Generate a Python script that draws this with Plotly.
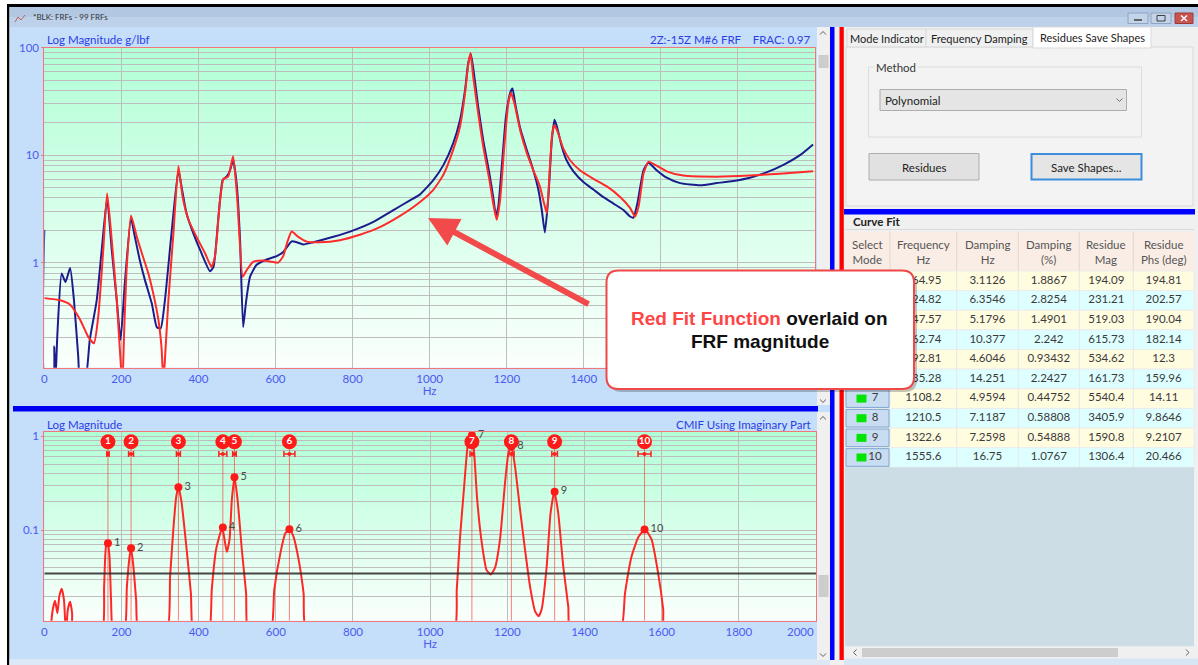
import plotly.graph_objects as go

W, H = 1198, 665
UI = "Lato, 'Noto Sans', sans-serif"

# ---------------- FRF magnitude (g/lbf) : measured ----------------
frf_hz = [0, 2.6, 23, 26, 29, 34, 45, 55, 67, 77, 88, 93, 106, 118, 136, 149, 163, 175, 188, 198,
          209, 225, 235, 248, 261, 279, 292, 302, 313, 330, 348, 356, 369, 387, 404, 430, 439, 452,
          463, 473, 482, 490, 499, 508, 516, 523, 534, 551, 577, 603, 620, 642, 655, 672, 698, 750,
          802, 854, 906, 949, 975, 1010, 1036, 1061, 1079, 1092, 1100, 1107, 1115, 1126, 1139, 1155,
          1165, 1172, 1178, 1187, 1198, 1209, 1215, 1222, 1235, 1252, 1269, 1282, 1291, 1299, 1308,
          1317, 1324, 1330, 1343, 1355, 1373, 1399, 1425, 1451, 1477, 1503, 1520, 1529, 1539, 1555,
          1568, 1589, 1615, 1650, 1702, 1745, 1788, 1831, 1874, 1918, 1961, 1995]
frf_mag = [2.01, 0.08, 0.08, 0.166, 0.08, 0.219, 0.794, 0.661, 0.891, 0.447, 0.135, 0.08, 0.08, 0.191,
           0.447, 1.318, 3.98, 1.318, 0.447, 0.191, 0.646, 2.57, 1.74, 1.05, 0.692, 0.417, 0.251,
           0.245, 0.447, 1.86, 7.24, 5.13, 2.88, 1.86, 1.32, 0.832, 0.912, 2.69, 5.89, 6.31, 7.24,
           9.02, 5.50, 1.62, 0.251, 0.417, 0.741, 0.955, 1.07, 1.15, 1.26, 1.58, 1.55, 1.48, 1.55,
           1.74, 2.00, 2.40, 3.09, 3.80, 4.32, 5.89, 8.13, 12.9, 21.4, 40.7, 71.6, 87.1, 57.5, 28.2,
           13.8, 6.76, 4.07, 2.75, 3.31, 7.76, 22.9, 38.0, 41.7, 30.2, 17.8, 11.2, 7.24, 4.79, 3.09,
           1.91, 4.07, 13.8, 21.4, 18.6, 12.0, 9.02, 7.08, 5.62, 4.79, 4.07, 3.55, 3.09, 2.69, 2.63,
           3.55, 7.24, 8.51, 7.24, 6.17, 5.50, 5.25, 5.50, 5.75, 6.17, 6.92, 8.13, 10.0, 12.6]

# ---------------- FRF magnitude (g/lbf) : curve fit ----------------
fit_hz = [0, 41, 67, 93, 114, 129, 140, 153, 163, 175, 188, 199, 203, 207, 214, 225, 240, 253, 270,
          283, 296, 304, 309, 313, 322, 335, 348, 359, 374, 395, 417, 434, 443, 456, 465, 477, 490,
          501, 515, 525, 542, 568, 590, 607, 620, 631, 642, 659, 681, 715, 767, 819, 871, 923, 975,
          1010, 1036, 1061, 1079, 1092, 1100, 1106, 1113, 1126, 1139, 1155, 1165, 1174, 1183, 1193,
          1204, 1211, 1220, 1235, 1252, 1269, 1286, 1297, 1304, 1312, 1318, 1324, 1332, 1347, 1364,
          1390, 1425, 1460, 1495, 1520, 1533, 1542, 1555, 1568, 1585, 1615, 1658, 1745, 1831, 1918,
          1995]
fit_mag = [0.468, 0.447, 0.407, 0.295, 0.204, 0.178, 0.316, 1.32, 4.42, 1.62, 0.447, 0.107, 0.08,
           0.219, 0.912, 2.75, 1.74, 1.23, 0.794, 0.513, 0.295, 0.166, 0.08, 0.124, 0.447, 1.86, 7.94,
           4.07, 2.51, 1.74, 1.23, 0.912, 1.15, 3.80, 6.03, 6.31, 9.77, 3.80, 0.741, 0.851, 1.02,
           1.05, 1.02, 1.00, 1.15, 1.57, 1.95, 1.74, 1.57, 1.55, 1.62, 1.82, 2.14, 2.72, 3.67, 4.79,
           6.61, 11.2, 18.6, 38.0, 69.2, 89.1, 53.7, 24.5, 12.0, 5.89, 3.55, 2.51, 3.89, 11.2, 30.2,
           38.0, 30.2, 17.0, 10.5, 7.24, 5.13, 3.55, 2.88, 7.76, 15.8, 19.1, 16.6, 11.5, 9.02, 7.24,
           6.03, 5.13, 4.07, 3.24, 2.69, 3.31, 6.76, 8.71, 8.13, 7.08, 6.46, 6.31, 6.46, 6.76, 7.08]

# ---------------- CMIF using imaginary part ----------------
cmif_hz = [15, 22, 28, 34, 39, 45, 51, 56, 61, 67, 72, 75, 149, 155, 160, 165, 169, 173, 179, 207,
           214, 221, 225, 231, 238, 245, 317, 326, 335, 342, 348, 356, 369, 380, 387, 426, 434, 445,
           461, 466, 473, 480, 486, 493, 501, 512, 523, 529, 586, 596, 612, 625, 636, 646, 659, 672,
           681, 1060, 1069, 1077, 1088, 1097, 1103, 1108, 1114, 1122, 1134, 1146, 1157, 1168, 1181,
           1194, 1203, 1211, 1220, 1233, 1246, 1259, 1272, 1281, 1289, 1302, 1312, 1322, 1332, 1345,
           1358, 1364, 1492, 1505, 1522, 1540, 1557, 1574, 1591, 1604, 1609, 2000]
cmif_mag = [0.008, 0.0145, 0.0178, 0.0132, 0.020, 0.024, 0.0182, 0.008, 0.0145, 0.0174, 0.0132,
            0.008, 0.008, 0.0251, 0.0676, 0.0728, 0.0525, 0.0182, 0.008, 0.008, 0.0251, 0.0525,
            0.0646, 0.0412, 0.0182, 0.008, 0.008, 0.0324, 0.110, 0.229, 0.286, 0.195, 0.0617,
            0.0214, 0.008, 0.008, 0.0234, 0.0617, 0.107, 0.0851, 0.0589, 0.0794, 0.209, 0.365,
            0.209, 0.0617, 0.0214, 0.008, 0.008, 0.0234, 0.0575, 0.0933, 0.1026, 0.0851, 0.049,
            0.0214, 0.008, 0.008, 0.0234, 0.0794, 0.288, 0.776, 0.977, 1.02, 0.661, 0.209, 0.0724,
            0.038, 0.0339, 0.0398, 0.0794, 0.316, 0.661, 0.771, 0.473, 0.166, 0.0617, 0.0251,
            0.0138, 0.0122, 0.0145, 0.0412, 0.151, 0.257, 0.151, 0.0412, 0.0155, 0.008, 0.008,
            0.0214, 0.0525, 0.0851, 0.102, 0.0794, 0.0347, 0.0145, 0.008, 0.008]
cmif_threshold = 0.0347

# ---------------- curve-fit results ----------------
mode_no = [1, 2, 3, 4, 5, 6, 7, 8, 9, 10]
mode_freq = [164.95, 224.82, 347.57, 462.74, 492.81, 635.28, 1108.2, 1210.5, 1322.6, 1555.6]
mode_damp_hz = [3.1126, 6.3546, 5.1796, 10.377, 4.6046, 14.251, 4.9594, 7.1187, 7.2598, 16.75]
mode_damp_pct = [1.8867, 2.8254, 1.4901, 2.242, 0.93432, 2.2427, 0.44752, 0.58808, 0.54888, 1.0767]
mode_res_mag = [194.09, 231.21, 519.03, 615.73, 534.62, 161.73, 5540.4, 3405.9, 1590.8, 1306.4]
mode_res_phs = [194.81, 202.57, 190.04, 182.14, 12.3, 159.96, 14.11, 9.8646, 9.2107, 20.466]
mode_peak = [0.0728, 0.0646, 0.286, 0.107, 0.365, 0.1026, 1.02, 0.771, 0.257, 0.102]

table_headers = ["Select<br>Mode", "Frequency<br>Hz", "Damping<br>Hz", "Damping<br>(%)",
                 "Residue<br>Mag", "Residue<br>Phs (deg)"]
x_ticks = list(range(0, 2001, 200))


# ---------------- pixel helpers (figure is laid out in screen pixels) ----------------
def X(p):
    return p / W


def Y(p):
    return 1 - p / H


shapes = []
annotations = []


def rect(x0, y0, x1, y1, fill, line=None, lw=1, layer="below"):
    shapes.append(dict(type="rect", xref="paper", yref="paper",
                       x0=X(x0), x1=X(x1), y0=Y(y1), y1=Y(y0), fillcolor=fill, layer=layer,
                       line=dict(color=line if line else "rgba(0,0,0,0)", width=lw if line else 0)))


def pt(x, y):
    return f"{X(x):.6f},{Y(y):.6f}"


def polyline(points, color, lw=1, layer="below"):
    d = "M " + " L ".join(pt(x, y) for x, y in points)
    shapes.append(dict(type="path", xref="paper", yref="paper", path=d, layer=layer,
                       line=dict(color=color, width=lw)))


def rounded(x0, y0, x1, y1, r):
    return ("M " + pt(x0 + r, y0) + " L " + pt(x1 - r, y0) + " Q " + pt(x1, y0) + " " + pt(x1, y0 + r) +
            " L " + pt(x1, y1 - r) + " Q " + pt(x1, y1) + " " + pt(x1 - r, y1) +
            " L " + pt(x0 + r, y1) + " Q " + pt(x0, y1) + " " + pt(x0, y1 - r) +
            " L " + pt(x0, y0 + r) + " Q " + pt(x0, y0) + " " + pt(x0 + r, y0) + " Z")


def label(x, y, s, size=11.5, color="#333333", xanchor="left", family=UI, bg=None):
    a = dict(xref="paper", yref="paper", x=X(x), y=Y(y), text=s, showarrow=False,
             xanchor=xanchor, yanchor="middle", font=dict(size=size, color=color, family=family))
    if bg:
        a["bgcolor"] = bg
    annotations.append(a)


def gradient(x0, y0, x1, y1, top, bottom, n=60):
    h = (y1 - y0) / n
    for i in range(n):
        t = i / (n - 1)
        c = tuple(round(top[k] + (bottom[k] - top[k]) * t) for k in range(3))
        rect(x0, y0 + i * h, x1, min(y1, y0 + (i + 1) * h + 0.7), "rgb(%d,%d,%d)" % c)


def chevron(x, y, direction, s=3, color="#606060"):
    if direction == "up":
        polyline([(x - s, y + s / 2), (x, y - s / 2), (x + s, y + s / 2)], color)
    elif direction == "down":
        polyline([(x - s, y - s / 2), (x, y + s / 2), (x + s, y - s / 2)], color)
    elif direction == "left":
        polyline([(x + s / 2, y - s), (x - s / 2, y), (x + s / 2, y + s)], color)
    else:
        polyline([(x - s / 2, y - s), (x + s / 2, y), (x - s / 2, y + s)], color)


# ---------------- window chrome ----------------
rect(7, 4, W, 7, "#000000")
rect(7, 4, 9.5, H, "#000000")
rect(9.5, 7, W, 17, "#B2C7E1")
rect(9.5, 17, W, 27, "#BDD1EA")
label(31, 17.5, "*BLK: FRFs - 99 FRFs", size=8, color="#333333")
polyline([(15, 22), (18, 17), (21, 20), (25, 15)], "#C06060", 1)
rect(1128, 13, 1148, 23.5, "#C3D3E8", "#8EA4C2")
rect(1151, 13, 1171, 23.5, "#C3D3E8", "#8EA4C2")
rect(1175, 13, 1193, 23.5, "#C9544F", "#9C3A36")
polyline([(1134, 20), (1142, 20)], "#404040", 1.5)
rect(1157, 15.5, 1165, 21, "rgba(0,0,0,0)", "#404040", 1)
polyline([(1181, 15.5), (1187, 21)], "#FFFFFF", 1.5)
polyline([(1187, 15.5), (1181, 21)], "#FFFFFF", 1.5)

# left panel
rect(9.5, 27, 830, H, "#C5DEF9")
rect(9.5, 659, 830, H, "#DCE8F6")
# scrollbars beside the charts
rect(817, 27, 830, 405, "#F0F0F0")
rect(818.5, 55, 828.5, 68, "#CDCDCD")
chevron(823, 33, "up")
chevron(823, 401, "down")
rect(817, 412, 830, 660, "#F0F0F0")
rect(818.5, 575, 828.5, 597, "#CDCDCD")
chevron(823, 418, "up")
chevron(823, 655, "down")
# separator bars
rect(13, 406, 818, 411.5, "#0000F0")
rect(830, 27, W, H, "#F0F0F0")
rect(830, 27, 834.5, 660, "#0000FF")
rect(839.5, 27, 843.8, 660, "#FF0000")

# chart backgrounds
gradient(44.3, 47.7, 815, 367.7, (178, 255, 214), (250, 255, 252))
gradient(44.3, 431.7, 816, 620.7, (178, 255, 214), (250, 255, 252))

# ---------------- right panel ----------------
rect(846, 47, 1193, 206, "#F3F3F3", "#D9D9D9")
rect(847, 29, 926, 47, "#F0F0F0", "#D9D9D9")
rect(926, 29, 1033, 47, "#F0F0F0", "#D9D9D9")
rect(1033, 27, 1151, 48, "#FFFFFF", "#D9D9D9")
label(886.5, 38.5, "Mode Indicator", size=11, color="#222222", xanchor="center")
label(979.5, 38.5, "Frequency Damping", size=11, color="#222222", xanchor="center")
label(1092, 37.5, "Residues Save Shapes", size=11, color="#222222", xanchor="center")
rect(868.5, 67, 1141.5, 137, "rgba(0,0,0,0)", "#DCDCDC")
label(874, 67, "Method", color="#333333", bg="#F3F3F3")
rect(880, 89.5, 1126.5, 110.5, "#E5E5E5", "#ADADAD")
label(883, 100, "Polynomial", color="#222222")
chevron(1119.5, 100, "down", s=3, color="#707070")
rect(869, 153.5, 979, 180, "#E1E1E1", "#ADADAD")
label(924, 167, "Residues", color="#222222", xanchor="center")
rect(1031.5, 154, 1141.5, 179.5, "#E5E5E5", "#3C8EDB", 2)
label(1086.5, 167, "Save Shapes...", color="#222222", xanchor="center")
rect(844, 209, 1195, 214.5, "#0000FF")
label(850.5, 222, "<b>Curve Fit</b>", color="#222222")
rect(845, 229, 1194, 230, "#DADADA")

# curve-fit table
col_edges = [845, 890, 956.7, 1018.3, 1079.3, 1133.3, 1194]
col_mid = [(col_edges[i] + col_edges[i + 1]) / 2 for i in range(6)]
row_top, row_h = 271, 19.63
rect(845, 231.5, 1194, row_top, "#FAEDE5")
for i in range(1, 6):
    rect(col_edges[i] - 0.5, 231.5, col_edges[i] + 0.5, row_top, "#E2D7D0")
for j, hdr in enumerate(table_headers):
    label(col_mid[j], 252, hdr, color="#555555", xanchor="center")
for i in range(len(mode_no)):
    y0 = row_top + i * row_h
    fill = "#FFFCE0" if i % 2 == 0 else "#DEFFFF"
    rect(890, y0, 1194, y0 + row_h, fill, "#ECECEC", 1)
    for e in col_edges[2:-1]:
        rect(e - 0.5, y0, e + 0.5, y0 + row_h, "#E6E6E6")
    rect(846, y0 + 1, 889, y0 + row_h - 1, "#C9DDF2", "#7FA6CF")
    rect(856.5, y0 + row_h / 2 - 4, 866.5, y0 + row_h / 2 + 4, "#00E600")
table_bottom = row_top + len(mode_no) * row_h
rect(845, table_bottom, 1194, 646.5, "#CDDDE5")
rect(845, 646.5, 1194, 658.5, "#F0F0F0")
rect(862, 648, 1118, 657, "#CDCDCD")
chevron(855, 652.5, "left")
chevron(1187.5, 652.5, "right")
rect(844, 658.5, W, H, "#D8E6F4")

# chart titles
label(45, 39.5, "Log Magnitude g/lbf", color="#2B3DE6")
label(811.5, 39.5, "2Z:-15Z M#6 FRF&nbsp;&nbsp;&nbsp;&nbsp;FRAC: 0.97", color="#2B3DE6",
      xanchor="right")
label(45, 424, "Log Magnitude", color="#2B3DE6")
label(812.5, 424, "CMIF Using Imaginary Part", color="#2B3DE6", xanchor="right")

# the last frequency label of the lower chart sits inside the plot edge
tick_font = dict(size=11.5, color="#4A5BF2", family=UI)
annotations.append(dict(xref="paper", yref="paper", x=X(816), y=Y(631.7), showarrow=False,
                        xanchor="right", yanchor="middle", text=str(x_ticks[-1]), font=tick_font))

# callout box over the charts
callout = (606.5, 270.5, 914, 389)
shapes.append(dict(type="path", xref="paper", yref="paper", layer="above",
                   path=rounded(callout[0] + 3, callout[1] + 3, callout[2] + 3, callout[3] + 3, 12),
                   fillcolor="rgba(0,0,0,0.22)", line=dict(width=0)))
shapes.append(dict(type="path", xref="paper", yref="paper", layer="above",
                   path=rounded(*callout, 12), fillcolor="#FFFFFF",
                   line=dict(color="#F04848", width=2)))
callout_font = dict(family="'Liberation Sans', Arial, sans-serif", size=19, color="#111111")
annotations.append(dict(xref="paper", yref="paper", x=X(759.5), y=Y(318.5), showarrow=False,
                        xanchor="center", yanchor="middle", font=callout_font,
                        text="<b><span style='color:#FF4646'>Red Fit Function</span> overlaid on</b>"))
annotations.append(dict(xref="paper", yref="paper", x=X(759.5), y=Y(341), showarrow=False,
                        xanchor="center", yanchor="middle", font=callout_font,
                        text="<b>FRF magnitude</b>"))
annotations.append(dict(xref="paper", yref="paper", x=X(428), y=Y(218), text="",
                        showarrow=True, ax=162, ay=87, axref="pixel", ayref="pixel",
                        arrowcolor="#F24A4A", arrowwidth=6, arrowhead=2, arrowsize=1.0,
                        standoff=0, startstandoff=0))


def under_callout(x, y):
    return callout[0] < x < callout[2] and callout[1] < y < callout[3]


# ---------------- traces ----------------
fig = go.Figure()

fig.add_trace(go.Scatter(x=frf_hz, y=frf_mag, mode="lines", xaxis="x", yaxis="y",
                         line=dict(color="#1C1C8C", width=2, shape="spline", smoothing=0.5),
                         hoverinfo="skip"))
fig.add_trace(go.Scatter(x=fit_hz, y=fit_mag, mode="lines", xaxis="x", yaxis="y",
                         line=dict(color="#FF2A2A", width=2, shape="spline", smoothing=0.5),
                         hoverinfo="skip"))

y2_lo, y2_hi = -1.96, 0.046
circle_level = 0.871
bar_level = 0.645
vx, vy = [], []
for f in mode_freq:
    vx += [f, f, None]
    vy += [10 ** y2_lo, circle_level, None]

fig.add_trace(go.Scatter(x=cmif_hz, y=cmif_mag, mode="lines", xaxis="x2", yaxis="y2",
                         line=dict(color="#FF2626", width=2, shape="spline", smoothing=0.5),
                         hoverinfo="skip"))
fig.add_trace(go.Scatter(x=[0, 2000], y=[cmif_threshold, cmif_threshold], mode="lines",
                         xaxis="x2", yaxis="y2", line=dict(color="rgba(40,40,40,0.85)", width=2),
                         hoverinfo="skip"))
fig.add_trace(go.Scatter(x=vx, y=vy, mode="lines", xaxis="x2", yaxis="y2",
                         line=dict(color="rgba(255,40,40,0.6)", width=1), hoverinfo="skip"))
fig.add_trace(go.Scatter(x=mode_freq, y=[bar_level] * len(mode_freq), mode="markers",
                         xaxis="x2", yaxis="y2", marker=dict(size=4, color="#FF2020"),
                         error_x=dict(type="data", array=mode_damp_hz, color="#FF2020",
                                      thickness=1.5, width=3),
                         hoverinfo="skip"))
fig.add_trace(go.Scatter(x=mode_freq, y=mode_peak, mode="markers+text", xaxis="x2", yaxis="y2",
                         marker=dict(size=8, color="#FF1A1A"), text=[str(n) for n in mode_no],
                         textposition="middle right",
                         textfont=dict(size=11, color="#4A4A4A", family=UI),
                         cliponaxis=False, hoverinfo="skip"))
fig.add_trace(go.Scatter(x=mode_freq, y=[circle_level] * len(mode_freq), mode="markers+text",
                         xaxis="x2", yaxis="y2", marker=dict(size=15, color="#FF1A1A"),
                         text=[f"<b>{n}</b>" for n in mode_no], textposition="middle center",
                         textfont=dict(size=10, color="#FFFFFF", family=UI),
                         cliponaxis=False, hoverinfo="skip"))

# table cell text (drawn as a trace so the callout box can sit above it)
cx, cy, ct = [], [], []
for i in range(len(mode_no)):
    yc = row_top + (i + 0.5) * row_h
    if not under_callout(875, yc):
        cx.append(875)
        cy.append(yc)
        ct.append(str(mode_no[i]))
    for j, col in enumerate([mode_freq, mode_damp_hz, mode_damp_pct, mode_res_mag, mode_res_phs]):
        cx.append(col_mid[j + 1])
        cy.append(yc)
        ct.append(f"{col[i]:.5g}")
fig.add_trace(go.Scatter(x=cx, y=cy, text=ct, mode="text", xaxis="x3", yaxis="y3",
                         textfont=dict(size=11.5, color="#3A3A3A", family=UI),
                         cliponaxis=False, hoverinfo="skip"))

# ---------------- axes ----------------
grid = "#BEBEBE"
border = "#F07878"


def minor_vals(decades):
    return [m * d for d in decades for m in range(2, 10)]


x_ticktext = [str(v) for v in x_ticks[:-1]] + [""]
common_x = dict(range=[0, 2000], tickvals=x_ticks, ticktext=x_ticktext,
                showgrid=True, gridcolor=grid, gridwidth=1, zeroline=False, showline=True,
                linecolor=border, linewidth=1, mirror=True, ticks="", tickfont=tick_font,
                automargin=False, title=dict(text="Hz", font=tick_font, standoff=2))

fig.update_layout(
    width=W, height=H, autosize=False,
    margin=dict(l=0, r=0, t=0, b=0, pad=0, autoexpand=False),
    paper_bgcolor="#FFFFFF", plot_bgcolor="rgba(0,0,0,0)", showlegend=False,
    font=dict(family=UI),
    xaxis=dict(domain=[X(44.3), X(815)], anchor="y", **common_x),
    yaxis=dict(domain=[Y(367.7), Y(47.7)], anchor="x", type="log", range=[-0.977, 2.0],
               tickvals=[1, 10, 100], ticktext=["1", "10", "100"], showgrid=True,
               gridcolor=grid, gridwidth=1, zeroline=False, showline=True, linecolor=border,
               linewidth=1, mirror=True, ticks="outside", ticklen=2, tickcolor=border,
               tickfont=tick_font, automargin=False,
               minor=dict(tickvals=minor_vals([0.1, 1, 10]), showgrid=True, gridcolor=grid,
                          gridwidth=1, ticks="")),
    xaxis2=dict(domain=[X(44.3), X(816)], anchor="y2", **common_x),
    yaxis2=dict(domain=[Y(620.7), Y(431.7)], anchor="x2", type="log", range=[y2_lo, y2_hi],
                tickvals=[0.1, 1], ticktext=["0.1", "1"], showgrid=True, gridcolor=grid,
                gridwidth=1, zeroline=False, showline=True, linecolor=border, linewidth=1,
                mirror=True, ticks="outside", ticklen=2, tickcolor=border, tickfont=tick_font,
                automargin=False,
                minor=dict(tickvals=minor_vals([0.01, 0.1]), showgrid=True, gridcolor=grid,
                           gridwidth=1, ticks="")),
    xaxis3=dict(domain=[0, 1], anchor="y3", range=[0, W], visible=False, fixedrange=True,
                automargin=False),
    yaxis3=dict(domain=[0, 1], anchor="x3", range=[H, 0], visible=False, fixedrange=True,
                automargin=False),
    shapes=shapes, annotations=annotations,
)

# page body without the default margin so the figure fills the window exactly
fig.write_html("out.html", config={"displayModeBar": False},
               post_script="document.body.style.margin='0';document.body.style.overflow='hidden';")
